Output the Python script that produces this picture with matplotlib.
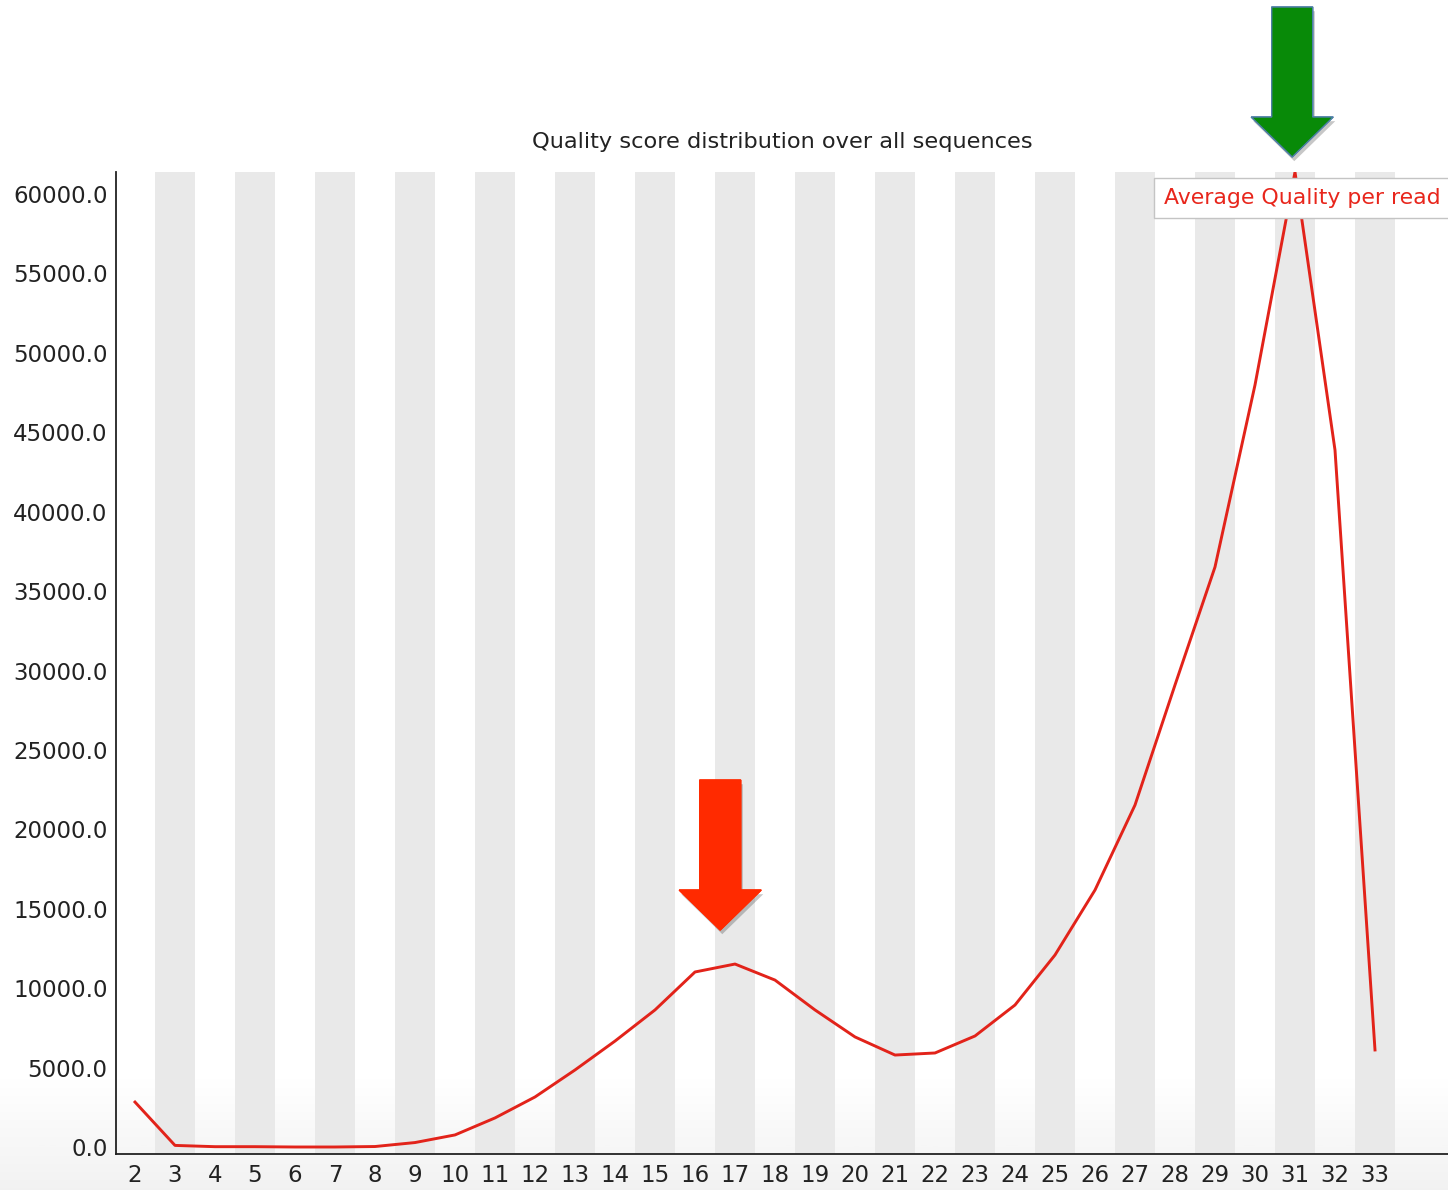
import numpy as np
import matplotlib
matplotlib.use("Agg")
import matplotlib.pyplot as plt
from matplotlib.patches import Polygon
from matplotlib import patheffects

# Per-read mean quality scores and read counts
quality = list(range(2, 34))
read_counts = [2830, 100, 20, 20, 0, 0, 30, 280, 760, 1830,
               3150, 4850, 6670, 8630, 11020, 11520, 10510, 8630, 6930, 5790,
               5920, 6990, 8940, 12090, 16180, 21530, 29090, 36520, 47980, 61390,
               43880, 6110]
y_ticks = [0, 5000, 10000, 15000, 20000, 25000, 30000, 35000,
           40000, 45000, 50000, 55000, 60000]
title = "Quality score distribution over all sequences"
series_name = "Average Quality per read"

fig = plt.figure(figsize=(14.48, 11.9), dpi=100)
fig.patch.set_facecolor("white")

# soft grey shading at the bottom edge of the window
grad = np.linspace(0, 1, 256).reshape(-1, 1)
bg = fig.add_axes([0, 0, 1, 0.095], zorder=-5)
bg.imshow(grad, aspect="auto", cmap="Greys", vmin=0, vmax=9, origin="upper",
          extent=[0, 1, 0, 1])
bg.set_axis_off()

ax = fig.add_axes([116 / 1448, 36 / 1190, (1448 - 116) / 1448, (1154 - 172) / 1190])
ax.patch.set_alpha(0)

# one quality step spans 40 px, one pixel of height ~63 reads
px_x = 1 / 40.0
px_y = 62.96
x_lo = quality[0] - 19 * px_x
x_hi = quality[0] + (1448 - 135) * px_x
ax.set_xlim(x_lo, x_hi)
ax.set_ylim(-7 * px_y, max(read_counts))

# alternating bands behind odd quality values
for q in quality:
    if q % 2 == 1:
        ax.axvspan(q - 0.5, q + 0.5, color="#e9e9e9", lw=0, zorder=0)

ax.plot(quality, read_counts, color="#e2231a", lw=2.1, zorder=3)

for side in ("top", "right"):
    ax.spines[side].set_visible(False)
for side in ("left", "bottom"):
    ax.spines[side].set_color("#222222")
    ax.spines[side].set_linewidth(1.3)

ax.set_xticks(quality)
ax.set_xticklabels([str(q) for q in quality])
ax.set_yticks(y_ticks)
ax.set_yticklabels([f"{v:.1f}" for v in y_ticks])
ax.tick_params(axis="both", length=0, labelsize=16.5, colors="#222222")
ax.tick_params(axis="x", pad=7)
ax.tick_params(axis="y", pad=6)

ax.set_title(title, fontsize=16.2, color="#222222", pad=17)

# series label box in the top-right corner
ax.text(0.9945, 0.984, series_name, transform=ax.transAxes, ha="right", va="top",
        fontsize=15.8, color="#e8261c", zorder=6,
        bbox=dict(boxstyle="square,pad=0.45", fc="white", ec="#c4c4c4", lw=1))

# block arrows pointing at the two peaks (sizes in data units)


def block_arrow(x_tip, y_tip, color, edge):
    shaft = 20.5 * px_x
    head = 41 * px_x
    head_len = 40 * px_y
    total = 150 * px_y
    pts = [
        (x_tip, y_tip),
        (x_tip - head, y_tip + head_len),
        (x_tip - shaft, y_tip + head_len),
        (x_tip - shaft, y_tip + total),
        (x_tip + shaft, y_tip + total),
        (x_tip + shaft, y_tip + head_len),
        (x_tip + head, y_tip + head_len),
    ]
    poly = Polygon(pts, closed=True, fc=color, ec=edge, lw=1.0,
                   clip_on=False, zorder=7)
    poly.set_path_effects([
        patheffects.withSimplePatchShadow(offset=(1.5, -3), alpha=0.22,
                                          shadow_rgbFace="black"),
        patheffects.Normal(),
    ])
    ax.add_patch(poly)


peak_idx = int(np.argmax(read_counts))
block_arrow(quality[peak_idx] - 0.07, read_counts[peak_idx] + 15 * px_y,
            "#088a08", "#4f7fa8")
block_arrow(16.63, read_counts[quality.index(17)] + 34 * px_y,
            "#ff2a00", "#ff2a00")

fig.savefig("out.png", dpi=100)
